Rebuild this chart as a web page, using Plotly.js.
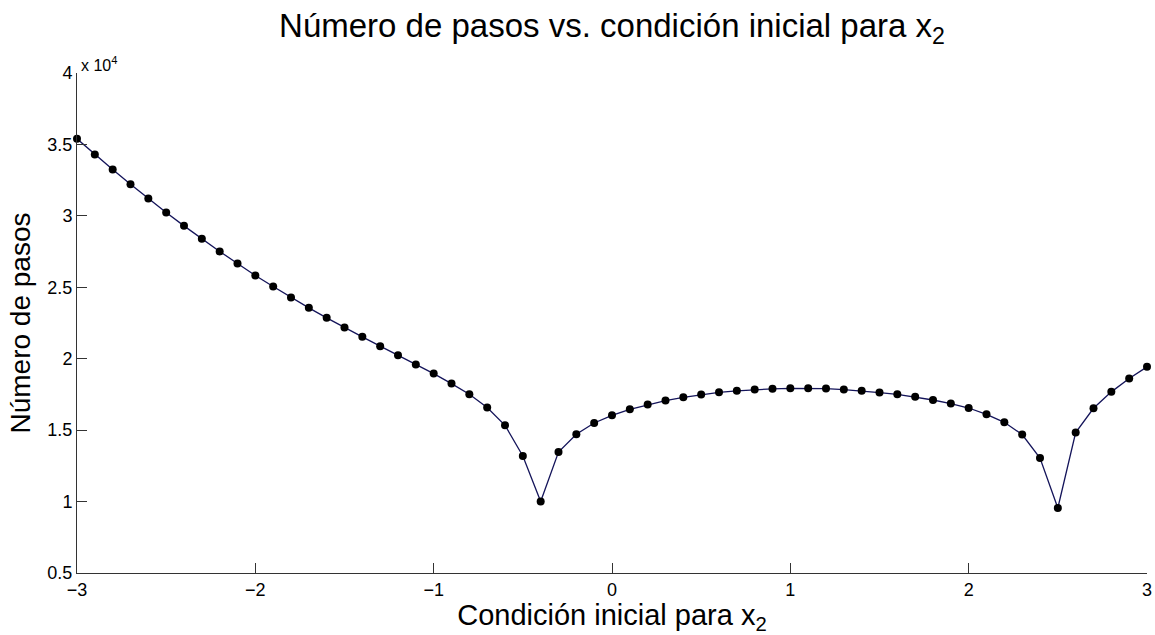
<!DOCTYPE html>
<html>
<head>
<meta charset="utf-8">
<script src="https://cdn.plot.ly/plotly-3.0.1.min.js"></script>
<style>
  html, body { margin: 0; padding: 0; background: #fff; }
  #chart { width: 1155px; height: 635px; }
</style>
</head>
<body>
<div id="chart"></div>
<script>
// Initial condition for x2, from -3 to 3 in steps of 0.1
const x0 = [
  -3.0, -2.9, -2.8, -2.7, -2.6, -2.5, -2.4, -2.3, -2.2, -2.1,
  -2.0, -1.9, -1.8, -1.7, -1.6, -1.5, -1.4, -1.3, -1.2, -1.1,
  -1.0, -0.9, -0.8, -0.7, -0.6, -0.5, -0.4, -0.3, -0.2, -0.1,
   0.0,  0.1,  0.2,  0.3,  0.4,  0.5,  0.6,  0.7,  0.8,  0.9,
   1.0,  1.1,  1.2,  1.3,  1.4,  1.5,  1.6,  1.7,  1.8,  1.9,
   2.0,  2.1,  2.2,  2.3,  2.4,  2.5,  2.6,  2.7,  2.8,  2.9,
   3.0
];

// Number of integration steps for each initial condition
const pasos = [
  35390, 34300, 33250, 32220, 31220, 30240, 29300, 28390, 27510, 26670,
  25830, 25060, 24290, 23560, 22860, 22180, 21530, 20880, 20240, 19590,
  18960, 18260, 17510, 16580, 15340, 13190, 10000, 13470, 14710, 15500,
  16040, 16460, 16790, 17070, 17300, 17490, 17650, 17750, 17840, 17890,
  17930, 17930, 17910, 17840, 17750, 17630, 17510, 17330, 17110, 16860,
  16550, 16110, 15550, 14690, 13050,  9550, 14830, 16530, 17680, 18610,
  19430
];

// Y axis is shown in units of 10^4
const yTicks = [5000, 10000, 15000, 20000, 25000, 30000, 35000, 40000];
const yTickText = ['0.5', '1', '1.5', '2', '2.5', '3', '3.5', '4'];
const xTicks = [-3, -2, -1, 0, 1, 2, 3];

const font = 'Liberation Sans, Arial, Helvetica, sans-serif';

const trace = {
  x: x0,
  y: pasos,
  type: 'scatter',
  mode: 'lines+markers',
  line: { color: '#14145a', width: 1.3 },
  marker: { color: '#000000', size: 8 },
  cliponaxis: false,
  hoverinfo: 'x+y'
};

const layout = {
  width: 1155,
  height: 635,
  paper_bgcolor: '#ffffff',
  plot_bgcolor: '#ffffff',
  showlegend: false,
  margin: { l: 77, r: 8, t: 73, b: 62 },
  font: { family: font, color: '#000000' },
  title: {
    text: 'Número de pasos vs. condición inicial para x<sub>2</sub>',
    font: { family: font, size: 33, color: '#000000' },
    x: 0.5, xref: 'paper', xanchor: 'center',
    y: 0.978, yref: 'container', yanchor: 'top'
  },
  xaxis: {
    range: [-3, 3],
    tickvals: xTicks,
    ticks: 'inside',
    ticklen: 10,
    tickwidth: 1,
    tickcolor: '#333333',
    showline: true,
    linecolor: '#333333',
    linewidth: 1,
    mirror: false,
    showgrid: false,
    zeroline: false,
    tickfont: { family: font, size: 18, color: '#000000' },
    title: {
      text: 'Condición inicial para x<sub>2</sub>',
      font: { family: font, size: 29, color: '#000000' },
      standoff: 0
    }
  },
  yaxis: {
    range: [5000, 40000],
    tickvals: yTicks,
    ticktext: yTickText,
    ticks: 'inside',
    ticklen: 10,
    tickwidth: 1,
    tickcolor: '#333333',
    showline: true,
    linecolor: '#333333',
    linewidth: 1,
    mirror: false,
    showgrid: false,
    zeroline: false,
    tickfont: { family: font, size: 18, color: '#000000' },
    title: {
      text: 'Número de pasos',
      font: { family: font, size: 28, color: '#000000' },
      standoff: 8
    }
  },
  annotations: [{
    text: 'x 10<sup>4</sup>',
    xref: 'paper', yref: 'paper',
    x: 0, y: 1,
    xanchor: 'left', yanchor: 'bottom',
    xshift: 2, yshift: -3,
    showarrow: false,
    font: { family: font, size: 16, color: '#000000' }
  }]
};

Plotly.newPlot('chart', [trace], layout, { displayModeBar: false, staticPlot: true });
</script>
</body>
</html>
